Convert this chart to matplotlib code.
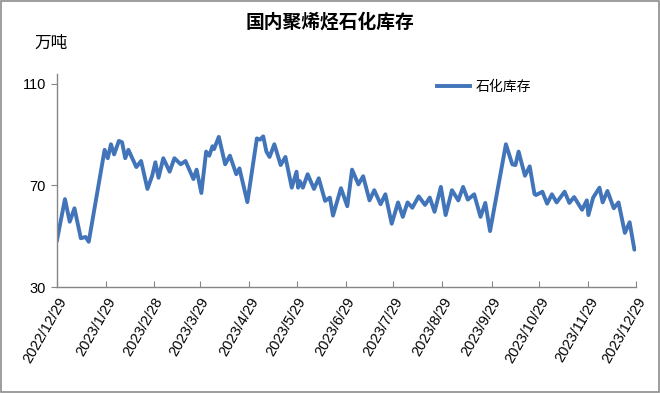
import pandas as pd
import matplotlib
matplotlib.use("Agg")
import matplotlib.pyplot as plt
from matplotlib.patches import Rectangle

plt.rcParams['font.family'] = ['Liberation Sans', 'Noto Sans CJK SC', 'DejaVu Sans']

# Dados (datas e stock em 万吨)
datas = [
    "2022-12-29", "2023-01-03", "2023-01-06", "2023-01-09", "2023-01-13", "2023-01-16",
    "2023-01-18", "2023-01-28", "2023-01-30", "2023-02-01", "2023-02-03", "2023-02-06",
    "2023-02-08", "2023-02-10", "2023-02-12", "2023-02-17", "2023-02-20", "2023-02-24",
    "2023-02-27", "2023-03-01", "2023-03-03", "2023-03-06", "2023-03-10", "2023-03-13",
    "2023-03-17", "2023-03-20", "2023-03-25", "2023-03-27", "2023-03-30", "2023-04-02",
    "2023-04-04", "2023-04-06", "2023-04-07", "2023-04-10", "2023-04-14", "2023-04-17",
    "2023-04-21", "2023-04-23", "2023-04-28", "2023-05-04", "2023-05-06", "2023-05-08",
    "2023-05-10", "2023-05-12", "2023-05-15", "2023-05-19", "2023-05-22", "2023-05-26",
    "2023-05-29", "2023-05-30", "2023-05-31", "2023-06-02", "2023-06-05", "2023-06-09",
    "2023-06-12", "2023-06-16", "2023-06-19", "2023-06-21", "2023-06-26", "2023-06-30",
    "2023-07-03", "2023-07-07", "2023-07-10", "2023-07-14", "2023-07-17", "2023-07-21",
    "2023-07-24", "2023-07-28", "2023-08-01", "2023-08-04", "2023-08-07", "2023-08-10",
    "2023-08-14", "2023-08-18", "2023-08-21", "2023-08-24", "2023-08-28", "2023-08-31",
    "2023-09-04", "2023-09-08", "2023-09-11", "2023-09-14", "2023-09-18", "2023-09-22",
    "2023-09-25", "2023-09-28", "2023-10-08", "2023-10-12", "2023-10-14", "2023-10-16",
    "2023-10-20", "2023-10-23", "2023-10-26", "2023-10-27", "2023-10-31", "2023-11-01",
    "2023-11-03", "2023-11-06", "2023-11-09", "2023-11-14", "2023-11-17", "2023-11-20",
    "2023-11-25", "2023-11-28", "2023-11-29", "2023-12-02", "2023-12-06", "2023-12-08",
    "2023-12-11", "2023-12-15", "2023-12-18", "2023-12-22", "2023-12-25", "2023-12-28",
    "2023-12-29",
]
stock = [
    48.5, 64.6, 55.7, 61.0, 49.2, 49.7,
    47.8, 84.0, 80.7, 86.2, 82.2, 87.5,
    87.0, 80.7, 84.0, 77.2, 79.6, 68.6,
    73.8, 79.1, 73.0, 80.7, 75.4, 80.7,
    78.3, 79.6, 72.5, 76.2, 67.0, 83.3,
    81.7, 85.4, 84.3, 89.1, 78.3, 81.7,
    74.4, 76.7, 63.4, 88.5, 88.0, 89.3,
    83.3, 81.2, 86.2, 78.0, 81.2, 69.1,
    75.4, 69.1, 71.7, 69.1, 74.4, 68.6,
    72.8, 63.9, 65.2, 58.1, 68.9, 61.8,
    76.2, 70.4, 73.6, 64.1, 68.1, 62.6,
    66.5, 54.9, 63.3, 57.6, 63.3, 61.2,
    65.7, 62.3, 65.2, 59.6, 69.4, 58.3,
    68.1, 64.1, 69.4, 64.4, 66.5, 57.6,
    63.1, 52.0, 86.2, 78.3, 78.0, 83.3,
    73.8, 77.5, 66.6, 66.2, 67.5, 65.9,
    62.8, 66.5, 63.3, 67.5, 63.1, 65.4,
    60.4, 64.1, 58.3, 65.2, 69.1, 63.3,
    67.8, 61.0, 63.3, 51.3, 55.5, 44.7,
    45.0,
]
datas_ticks = ["2022-12-29", "2023-01-29", "2023-02-28", "2023-03-29", "2023-04-29",
               "2023-05-29", "2023-06-29", "2023-07-29", "2023-08-29", "2023-09-29",
               "2023-10-29", "2023-11-29", "2023-12-29"]
yticks = [30, 70, 110]

df = pd.DataFrame({"data": pd.to_datetime(datas), "stock": stock})
ticks = pd.to_datetime(datas_ticks)

fig = plt.figure(figsize=(6.6, 3.93), dpi=100)
ax = fig.add_axes([0.0864, 0.2697, 0.8772, 0.543])

ax.plot(df["data"], df["stock"], color="#4174B9", lw=2.8, label="石化库存",
        solid_joinstyle="round")

ax.set_xlim(ticks[0], ticks[-1])
ax.set_ylim(30, 114)
ax.set_yticks(yticks)
ax.set_xticks(ticks)
ax.set_xticklabels([f"{t.year}/{t.month}/{t.day}" for t in ticks],
                   rotation=60, ha="right", va="top", rotation_mode="anchor")

for s in ["top", "right"]:
    ax.spines[s].set_visible(False)
for s in ["left", "bottom"]:
    ax.spines[s].set_color("#868686")
    ax.spines[s].set_linewidth(1.0)
ax.tick_params(axis="x", direction="in", length=4, color="#868686", labelsize=10.5, pad=6)
ax.tick_params(axis="y", direction="out", length=4, color="#868686", labelsize=10.5, pad=4)

fig.text(0.5, 0.944, "国内聚烯烃石化库存", ha="center", va="center", fontsize=13.5,
         fontweight="bold", family=["Noto Sans CJK SC"])
fig.text(0.077, 0.89, "万吨", ha="center", va="center", fontsize=12,
         family=["Noto Sans CJK SC"])

ax.legend(loc="upper left", bbox_to_anchor=(0.635, 1.03), frameon=False,
          prop={"family": "Noto Sans CJK SC", "size": 10}, handlelength=2.4,
          handletextpad=0.4)

fig.patches.append(Rectangle((0.001, 0.002), 0.997, 0.996, transform=fig.transFigure,
                             fill=False, edgecolor="#8c8c8c", lw=1.2))

fig.savefig("out.png", dpi=100)
